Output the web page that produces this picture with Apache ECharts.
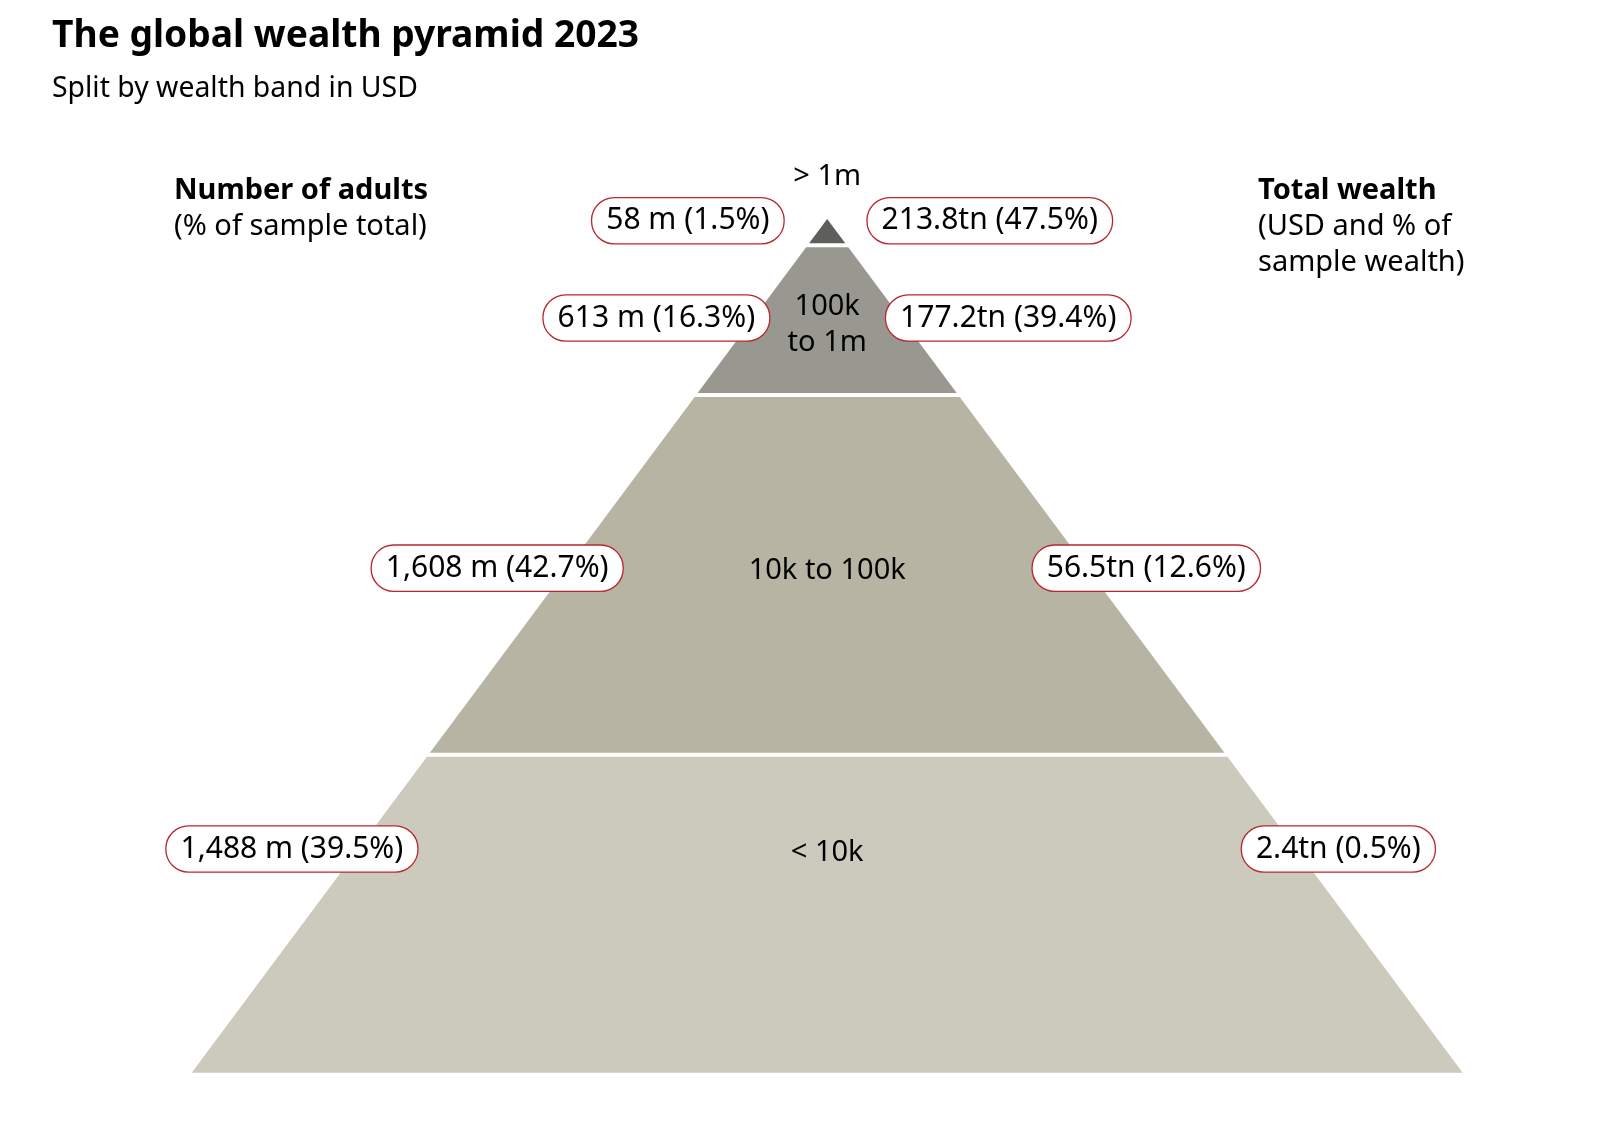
<!DOCTYPE html>
<html>
<head>
<meta charset="utf-8">
<title>The global wealth pyramid 2023</title>
<script src="https://cdn.jsdelivr.net/npm/echarts@6/dist/echarts.min.js"></script>
<style>
  html, body { margin: 0; padding: 0; background: #fff; }
  #chart { width: 1608px; height: 1124px; }
</style>
</head>
<body>
<div id="chart"></div>
<script>
    // wealth bands, bottom to top
    var bands = ['< 10k', '10k to 100k', '100k\nto 1m', '> 1m'];
    var adults = [1488, 1608, 613, 58];            // million adults
    var adultsShare = [39.5, 42.7, 16.3, 1.5];     // % of sample total
    var wealth = [2.4, 56.5, 177.2, 213.8];        // USD tn
    var wealthShare = [0.5, 12.6, 39.4, 47.5];     // % of sample wealth
    // upper edge of each band, % of pyramid height
    var bandTop = [37.25, 79.38, 96.92, 100];

    // layout only: where the labels sit (level on y axis, inner edge of the pill on x axis)
    var labelLevel = [26.2, 59.1, 88.4, 99.8];
    var bandTextLevel = [25.8, 58.8, 87.6, 105.0];
    var pillEdgeLeft = [0.645, 0.322, 0.0913, 0.0688];
    var pillEdgeRight = [0.6526, 0.3234, 0.0927, 0.0636];
    var fills = ['#cccabd', '#b7b4a3', '#989890', '#5e5e5c'];

    var FONT = '"Noto Sans", "Open Sans", sans-serif';

    var pyramidData = bandTop.map(function (top, i) {
        return [i === 0 ? 0 : bandTop[i - 1], top, i];
    });

    function pill(text, x, y, align) {
        return {
            type: 'text',
            style: {
                text: text,
                x: x, y: y,
                align: align,
                verticalAlign: 'middle',
                font: '30px ' + FONT,
                fill: '#000',
                lineHeight: 31,
                backgroundColor: '#fff',
                borderColor: '#b8272e',
                borderWidth: 1.3,
                borderRadius: 22,
                padding: [7, 14, 7, 14]
            },
            z2: 10
        };
    }

    function renderItem(params, api) {
        var i = api.value(2);
        var lo = api.value(0), hi = api.value(1);
        var apex = api.coord([0, 100]);
        var baseL = api.coord([-1, 0]);
        var half = apex[0] - baseL[0];
        var h = baseL[1] - apex[1];
        function edge(py) { return half * (py - apex[1]) / h; }

        var yLo = api.coord([0, lo])[1] - (i > 0 ? 2 : 0);
        var yHi = api.coord([0, hi])[1] + (hi < 100 ? 2 : 0);
        var cx = apex[0];
        var children = [{
            type: 'polygon',
            shape: { points: [
                [cx - edge(yLo), yLo], [cx + edge(yLo), yLo],
                [cx + edge(yHi), yHi], [cx - edge(yHi), yHi]
            ] },
            style: { fill: fills[i] }
        }];

        var tp = api.coord([0, bandTextLevel[i]]);
        children.push({
            type: 'text',
            style: {
                text: bands[i], x: tp[0], y: tp[1],
                align: 'center', verticalAlign: 'middle',
                font: '29px ' + FONT, fill: '#000', lineHeight: 36
            },
            z2: 5
        });

        var lp = api.coord([-pillEdgeLeft[i], labelLevel[i]]);
        var rp = api.coord([pillEdgeRight[i], labelLevel[i]]);
        children.push(pill(adults[i].toLocaleString('en-US') + ' m (' + adultsShare[i].toFixed(1) + '%)', lp[0], lp[1], 'right'));
        children.push(pill(wealth[i].toFixed(1) + 'tn (' + wealthShare[i].toFixed(1) + '%)', rp[0], rp[1], 'left'));

        return { type: 'group', children: children };
    }

    var chart = echarts.init(document.getElementById('chart'));
    var option = {
        animation: false,
        backgroundColor: '#fff',
        title: {
            text: 'The global wealth pyramid 2023',
            subtext: 'Split by wealth band in USD',
            left: 47,
            top: 9,
            itemGap: 14,
            textStyle: { fontFamily: FONT, fontWeight: 'bold', fontSize: 37.2, color: '#000', lineHeight: 44 },
            subtextStyle: { fontFamily: FONT, fontSize: 28.4, color: '#000', lineHeight: 34 }
        },
        graphic: [
            { type: 'text', left: 174, top: 173, style: { text: 'Number of adults', font: 'bold 29px ' + FONT, fill: '#000', lineHeight: 36 } },
            { type: 'text', left: 174, top: 209, style: { text: '(% of sample total)', font: '29px ' + FONT, fill: '#000', lineHeight: 36 } },
            { type: 'text', left: 1258, top: 173, style: { text: 'Total wealth', font: 'bold 29px ' + FONT, fill: '#000', lineHeight: 36 } },
            { type: 'text', left: 1258, top: 209, style: { text: '(USD and % of\nsample wealth)', font: '29px ' + FONT, fill: '#000', lineHeight: 36 } }
        ],
        grid: { left: 191.7, right: 145.3, top: 219, bottom: 51.3 },
        xAxis: { type: 'value', min: -1, max: 1, show: false },
        yAxis: { type: 'value', min: 0, max: 100, show: false },
        series: [{
            type: 'custom',
            renderItem: renderItem,
            encode: { y: [0, 1] },
            data: pyramidData,
            silent: true
        }]
    };
    chart.setOption(option);
</script>
</body>
</html>
